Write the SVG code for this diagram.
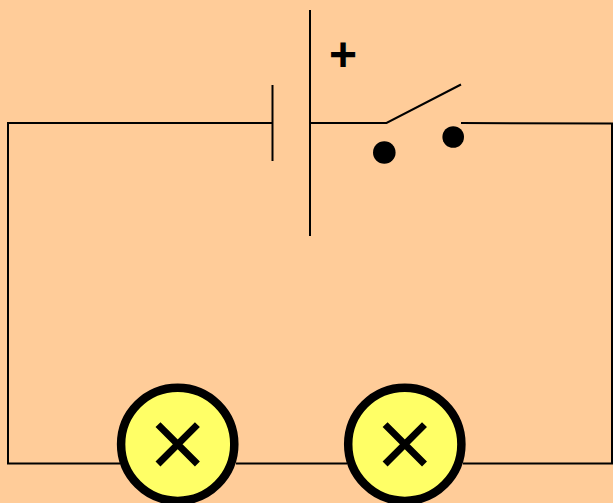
<svg xmlns="http://www.w3.org/2000/svg" width="613" height="503" viewBox="0 0 613 503">
<style>
.w{fill:none;stroke:#000;stroke-width:2}
.lamp circle{fill:#ffff66;stroke:#000;stroke-width:8.500}
.lamp path{fill:none;stroke:#000;stroke-width:7}
.dot{fill:#000}
</style>
<rect width="613" height="503" fill="#ffcc99"/>
<g id="connectors">
<path class="w" d="M272.500 123H8V463.500H120"/>
<path class="w" d="M236 463.500H347"/>
<path class="w" d="M463 463.500H612V123.500L461 123"/>
<path class="w" d="M310 123H386.500L461 84.500"/>
</g>
<g id="battery">
<line class="w" x1="272.500" y1="85" x2="272.500" y2="161"/>
<line class="w" x1="310" y1="10" x2="310" y2="236"/>
<text x="343" y="71" font-family="'Liberation Sans',Arial,sans-serif" font-weight="700" font-size="48" text-anchor="middle">+</text>
</g>
<g id="switch">
<circle class="dot" cx="384.300" cy="152.500" r="11.300"/>
<circle class="dot" cx="453.200" cy="137" r="10.800"/>
</g>
<g id="lamp1" class="lamp">
<circle cx="177.700" cy="444.300" r="56.600"/>
<path d="M158 424.600L197.400 464M197.400 424.600L158 464"/>
</g>
<g id="lamp2" class="lamp">
<circle cx="404.800" cy="444.300" r="56.600"/>
<path d="M385.100 424.600L424.500 464M424.500 424.600L385.100 464"/>
</g>
</svg>
